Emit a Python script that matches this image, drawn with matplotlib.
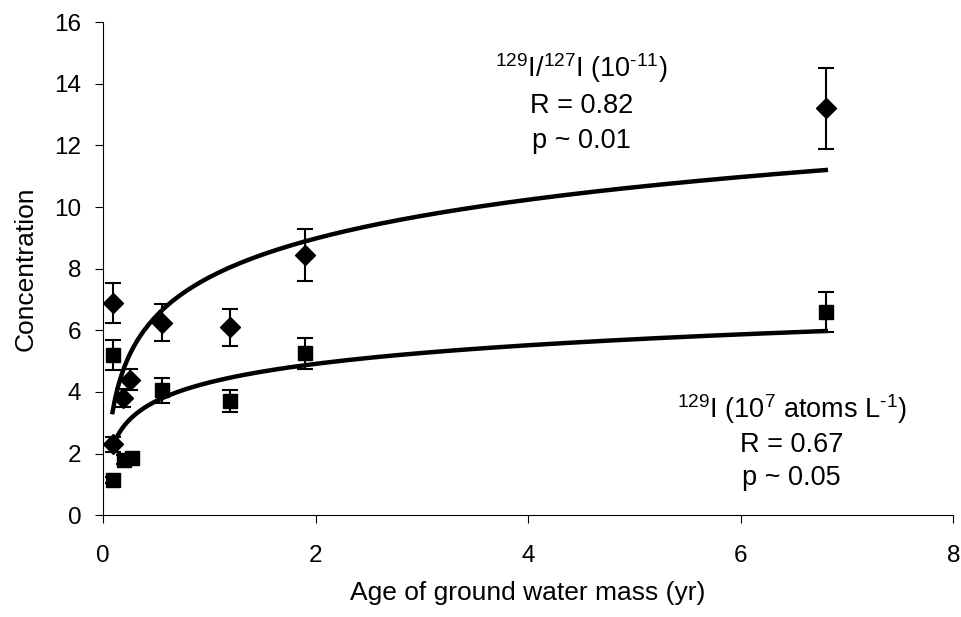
import numpy as np
from matplotlib import pyplot as plt

plt.rcParams['font.family'] = 'Liberation Sans'
plt.rcParams['mathtext.fontset'] = 'custom'
plt.rcParams['mathtext.rm'] = 'Liberation Sans'
plt.rcParams['mathtext.it'] = 'Liberation Sans'

# 129I/127I ratio (10^-11)
age_ratio = [0.09, 0.09, 0.19, 0.25, 0.56, 1.2, 1.9, 6.8]
ratio = [6.9, 2.3, 3.8, 4.4, 6.25, 6.1, 8.45, 13.2]
ratio_err = [0.65, 0.25, 0.3, 0.35, 0.6, 0.6, 0.85, 1.3]

# 129I concentration (10^7 atoms/L)
age_conc = [0.09, 0.09, 0.2, 0.27, 0.56, 1.2, 1.9, 6.8]
conc = [5.2, 1.15, 1.8, 1.85, 4.05, 3.7, 5.25, 6.6]
conc_err = [0.5, 0.1, 0.15, 0.15, 0.4, 0.35, 0.5, 0.65]

ratio_note = [r'$^{129}$I/$^{127}$I (10$^{\text{-11}}$)', 'R = 0.82', 'p ~ 0.01']
conc_note = [r'$^{129}$I (10$^{7}$ atoms L$^{\text{-1}}$)', 'R = 0.67', 'p ~ 0.05']

fig = plt.figure(figsize=(9.62, 6.17), dpi=100)
ax = fig.add_axes([0.107, 0.165, 0.884, 0.799])

# log trendlines (least squares on ln x)
xs = np.linspace(0.09, 6.8, 300)
for xd, yd in [(age_ratio, ratio), (age_conc, conc)]:
    a, b = np.polyfit(np.log(xd), yd, 1)
    ax.plot(xs, a * np.log(xs) + b, color='black', lw=3.2, zorder=2)

ax.errorbar(age_ratio, ratio, yerr=ratio_err, fmt='D', color='black', ms=10,
            elinewidth=1.5, capsize=5.5, capthick=1.5, zorder=3)
ax.errorbar(age_conc, conc, yerr=conc_err, fmt='s', color='black', ms=10,
            elinewidth=1.5, capsize=5.5, capthick=1.5, zorder=3)

ax.set_xlim(0, 8)
ax.set_ylim(0, 16)
ax.set_xticks([0, 2, 4, 6, 8])
ax.set_yticks(range(0, 17, 2))
ax.spines['top'].set_visible(False)
ax.spines['right'].set_visible(False)
ax.tick_params(labelsize=17.5, length=5.5, direction='out')
ax.tick_params(axis='x', pad=16)
ax.tick_params(axis='y', pad=10)
ax.set_xlabel('Age of ground water mass (yr)', fontsize=19, labelpad=10)
ax.set_ylabel('Concentration', fontsize=19, labelpad=12)

# annotations, one line at a time (baseline positions)
for txt, y in zip(ratio_note, [14.22, 13.05, 11.92]):
    ax.text(4.5, y, txt, ha='center', va='baseline', fontsize=19.5)
for txt, y in zip(conc_note, [3.15, 2.05, 0.97]):
    ax.text(6.48, y, txt, ha='center', va='baseline', fontsize=19.5)

fig.savefig('out.png', dpi=100)
